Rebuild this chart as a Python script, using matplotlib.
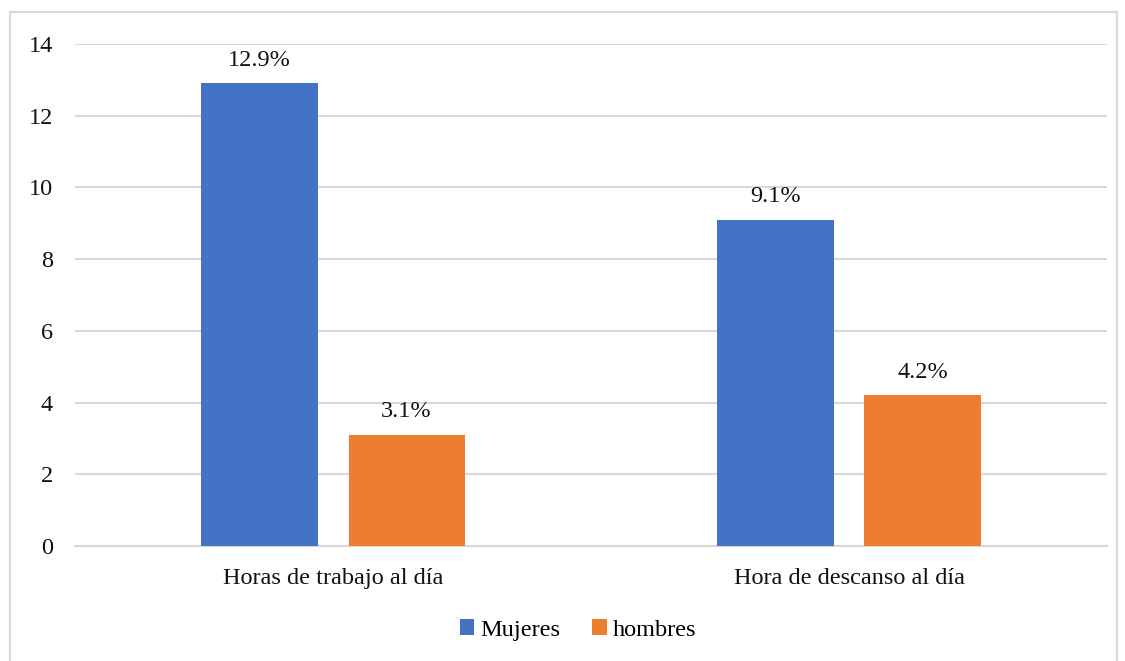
import matplotlib.pyplot as plt
from matplotlib.lines import Line2D

# datos del gráfico
categorias = ["Horas de trabajo al día", "Hora de descanso al día"]
mujeres = [12.9, 9.1]
hombres = [3.1, 4.2]
etiquetas_mujeres = ["12.9%", "9.1%"]
etiquetas_hombres = ["3.1%", "4.2%"]

azul = "#4472C4"
naranja = "#ED7D31"

plt.rcParams['font.family'] = ['Liberation Serif', 'DejaVu Serif']

fig = plt.figure(figsize=(11.25, 6.61), dpi=100)
ax = fig.add_axes([0.0667, 0.174, 0.9173, 0.7594])

x = list(range(len(categorias)))
ancho = 0.225
desp = 0.1425

b1 = ax.bar([i - desp for i in x], mujeres, ancho, color=azul, label="Mujeres", zorder=3)
b2 = ax.bar([i + desp for i in x], hombres, ancho, color=naranja, label="hombres", zorder=3)

# etiquetas de datos encima de cada barra
for barras, etiquetas in [(b1, etiquetas_mujeres), (b2, etiquetas_hombres)]:
    for b, t in zip(barras, etiquetas):
        ax.annotate(t, (b.get_x() + b.get_width() / 2, b.get_height()),
                    xytext=(0, 9), textcoords="offset points",
                    ha="center", va="bottom", fontsize=17.5, color="#111111")

ax.set_xlim(-0.5, 1.5)
ax.set_ylim(0, 14)
ax.set_yticks(range(0, 15, 2))
ax.set_xticks(x)
ax.set_xticklabels(categorias)
ax.tick_params(axis="both", length=0, labelsize=17.5, colors="#111111")
ax.tick_params(axis="y", pad=16)
ax.tick_params(axis="x", pad=16)

ax.grid(axis="y", color="#D9D9D9", linewidth=1.5, zorder=0)
for s in ["top", "right", "left"]:
    ax.spines[s].set_visible(False)
ax.spines["bottom"].set_color("#D9D9D9")
ax.spines["bottom"].set_linewidth(1.5)

ax.legend(loc="center", bbox_to_anchor=(578 / 1125, 1 - 630 / 661),
          bbox_transform=fig.transFigure, ncol=2, frameon=False, fontsize=17.5,
          handlelength=0.6, handleheight=0.6, handletextpad=0.25, columnspacing=1.3)

# marco exterior del gráfico
borde = "#D9D9D9"
fig.add_artist(Line2D([10 / 1125, 10 / 1125], [0, 1 - 12 / 661], color=borde, lw=1.5))
fig.add_artist(Line2D([10 / 1125, 1117 / 1125], [1 - 12 / 661, 1 - 12 / 661], color=borde, lw=1.5))
fig.add_artist(Line2D([1117 / 1125, 1117 / 1125], [0, 1 - 12 / 661], color=borde, lw=1.5))

plt.savefig("out.png", dpi=100)
